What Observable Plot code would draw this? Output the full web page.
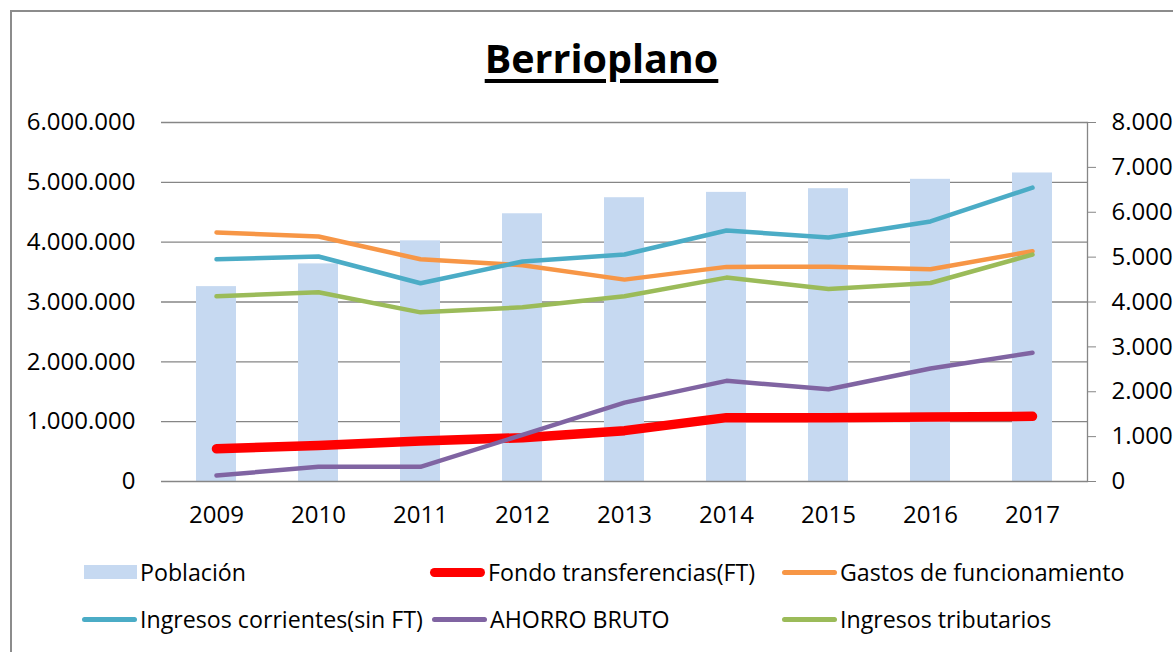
<!DOCTYPE html>
<html>
<head>
<meta charset="utf-8">
<script src="https://cdn.jsdelivr.net/npm/d3@7"></script>
<script src="https://cdn.jsdelivr.net/npm/@observablehq/plot@0.6"></script>
<style>
  html, body { margin: 0; padding: 0; background: #fff; overflow: hidden; }
  body { width: 1173px; height: 652px; position: relative; font-family: "Open Sans", sans-serif; }
  #border { position: absolute; left: 10px; top: 10px; width: 2000px; height: 2000px;
            border-left: 2px solid #8c8c8c; border-top: 2px solid #8c8c8c; }
  #chart { position: absolute; left: 0; top: 0; }
  #title { position: absolute; left: 0; width: 1203px; top: 31px; text-align: center;
           font-family: "Open Sans", sans-serif; font-weight: bold; font-size: 39.5px; color: #000;
           text-decoration: underline; text-decoration-thickness: 3.5px; text-underline-offset: 6px; }
  .leg { position: absolute; display: flex; align-items: center; font-size: 23.2px; color: #000; white-space: nowrap; }
  .sw { display: inline-block; margin-right: 3px; }
</style>
</head>
<body>
<div id="border"></div>
<div id="chart"></div>
<div id="title">Berrioplano</div>
<div id="legend"></div>
<script>
const years = ["2009","2010","2011","2012","2013","2014","2015","2016","2017"];
const poblacion   = [4343, 4849, 5363, 5966, 6324, 6443, 6525, 6734, 6875];
const fondo       = [547000, 603000, 676000, 732000, 850000, 1067000, 1067000, 1078000, 1089000];
const gastos      = [4162000, 4095000, 3715000, 3615000, 3374000, 3587000, 3590000, 3547000, 3849000];
const corrientes  = [3715000, 3760000, 3313000, 3676000, 3793000, 4196000, 4078000, 4346000, 4911000];
const ahorro      = [100000, 246000, 246000, 780000, 1318000, 1682000, 1542000, 1888000, 2151000];
const tributarios = [3095000, 3162000, 2827000, 2911000, 3095000, 3408000, 3218000, 3318000, 3793000];
const leftTicks  = [0, 1000000, 2000000, 3000000, 4000000, 5000000, 6000000];
const rightTicks = [0, 1000, 2000, 3000, 4000, 5000, 6000, 7000, 8000];

const seriesNames  = ["Población", "Fondo transferencias(FT)", "Gastos de funcionamiento",
                      "Ingresos corrientes(sin FT)", "AHORRO BRUTO", "Ingresos tributarios"];
const seriesColors = ["#C6D9F1", "#FF0000", "#F79646", "#4BACC6", "#8064A2", "#9BBB59"];

const ratio = 6000000 / 8000; // right axis -> left axis units
const loc = d3.formatLocale({decimal: ",", thousands: ".", grouping: [3], currency: ["", "€"]});
const fmt = loc.format(",");

const popData = years.map((y, i) => ({year: y, value: poblacion[i] * ratio}));
const lineSeries = [fondo, gastos, corrientes, ahorro, tributarios].map((vals, k) => ({
  name: seriesNames[k + 1], color: seriesColors[k + 1],
  data: years.map((y, i) => ({year: y, value: vals[i]}))
}));
const widths = [9.5, 4.5, 4.5, 4.5, 4.5];

const plot = Plot.plot({
  width: 1173, height: 545,
  marginTop: 122, marginBottom: 64, marginLeft: 161, marginRight: 86,
  style: {fontFamily: "Open Sans, sans-serif", fontSize: "24px", color: "#000", background: "transparent"},
  x: {type: "band", domain: years, paddingInner: 0.604, paddingOuter: 0.302},
  y: {domain: [0, 6000000]},
  marks: [
    Plot.ruleY(leftTicks.slice(1), {stroke: "#868686", strokeWidth: 1.3}),
    Plot.barY(popData, {x: "year", y: "value", fill: seriesColors[0]}),
    Plot.ruleY([0], {stroke: "#868686", strokeWidth: 1.3}),
    ...lineSeries.map((s, k) => Plot.line(s.data, {
      x: "year", y: "value", stroke: s.color, strokeWidth: widths[k],
      strokeLinecap: "round", strokeLinejoin: "round"
    })),
    Plot.frame({anchor: "right", stroke: "#868686", strokeWidth: 1.3}),
    Plot.axisY({anchor: "left", ticks: leftTicks, tickSize: 0, tickPadding: 26, tickFormat: fmt, fontSize: 24, label: null}),
    Plot.axisY({anchor: "right", ticks: rightTicks.map(v => v * ratio), tickSize: 8, tickPadding: 16,
                tickFormat: d => fmt(Math.round(d / ratio)), stroke: "#868686", fontSize: 24, label: null}),
    Plot.axisX({anchor: "bottom", tickSize: 0, tickPadding: 24, fontSize: 24, label: null})
  ]
});
document.getElementById("chart").appendChild(plot);

// Legend
const legPos = [[84, 572], [430, 572], [782, 572], [82, 619], [432, 619], [782, 619]];
const legend = document.getElementById("legend");
seriesNames.forEach((name, i) => {
  const item = document.createElement("div");
  item.className = "leg";
  item.style.left = legPos[i][0] + "px";
  item.style.top = (legPos[i][1] - 17) + "px";
  item.style.height = "34px";
  const sw = document.createElement("span");
  sw.className = "sw";
  if (i === 0) {
    sw.style.width = "53px"; sw.style.height = "14px"; sw.style.background = seriesColors[i];
  } else {
    const th = i === 1 ? 9 : 5;
    sw.style.width = "55px"; sw.style.height = th + "px"; sw.style.background = seriesColors[i];
    sw.style.borderRadius = (th / 2) + "px";
  }
  item.appendChild(sw);
  const t = document.createElement("span");
  t.textContent = name;
  item.appendChild(t);
  legend.appendChild(item);
});
</script>
</body>
</html>
